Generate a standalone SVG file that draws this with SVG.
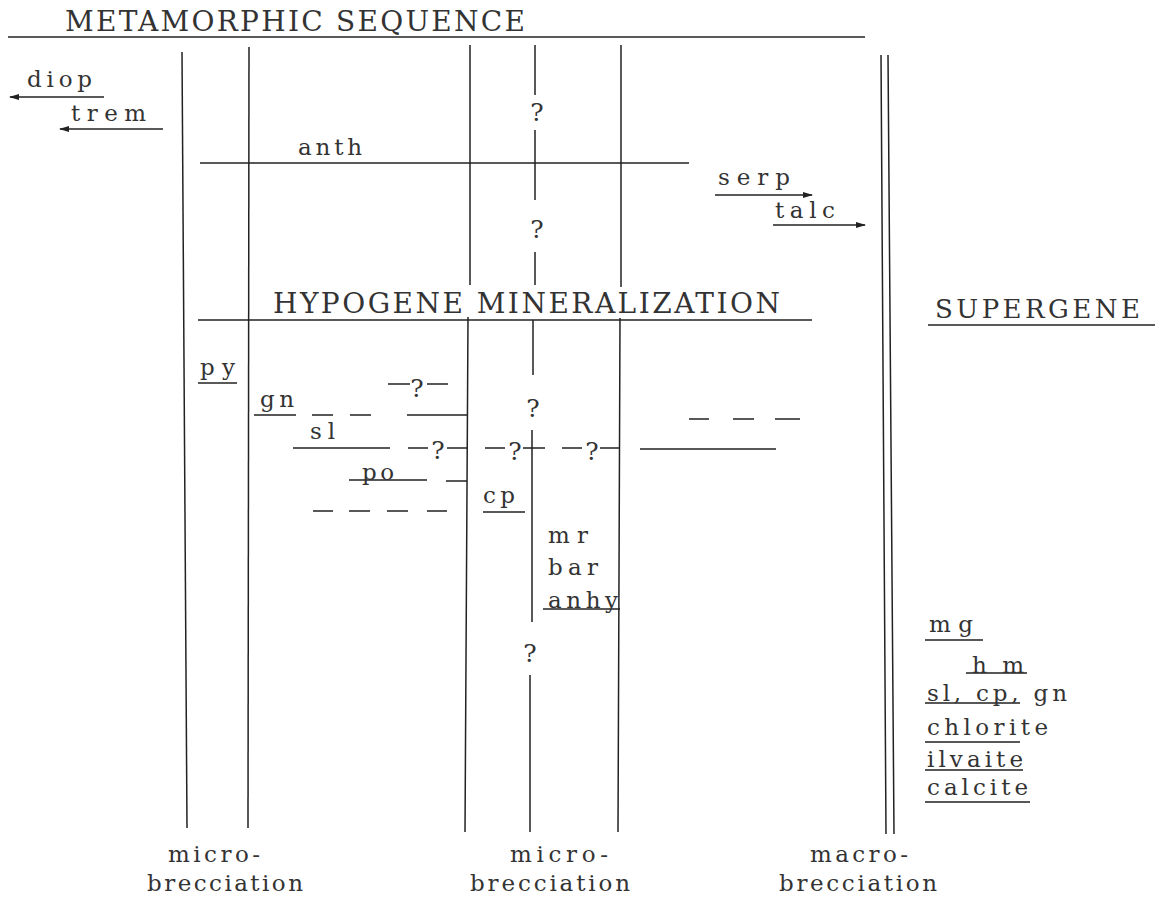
<svg xmlns="http://www.w3.org/2000/svg" width="1167" height="899" viewBox="0 0 1167 899">
<style>
.t{font-family:"DejaVu Serif","Liberation Serif",serif;font-size:23px;fill:#333}
.h{font-size:28px}
.s{font-size:26px}
.q{font-size:25px;text-anchor:middle}
.l{stroke:#222;stroke-width:1.5;fill:none}
</style>
<defs>
<marker id="ah" markerWidth="10" markerHeight="6" refX="9" refY="3" orient="auto" markerUnits="userSpaceOnUse">
<path d="M0,0 L10,3 L0,6 z" fill="#222"/>
</marker>
</defs>
<rect width="1167" height="899" fill="#fff"/>
<g id="connectors">
<path class="l" d="M8,37 H865"/>
<path class="l" d="M182,52 L187,828"/>
<path class="l" d="M249,47 L248,828"/>
<path class="l" d="M470,45 V285 M468,317 L465,832"/>
<path class="l" d="M535,45 V95 M535,130 V200 M535,252 V285 M533,320 V375 M532,430 V622 M530,675 V832"/>
<path class="l" d="M621,45 V287 M620,318 L618,832"/>
<path class="l" d="M881,55 L886,834 M888,55 L894,834"/>
<path class="l" d="M104,97 H10" marker-end="url(#ah)"/>
<path class="l" d="M163,129 H60" marker-end="url(#ah)"/>
<path class="l" d="M715,195 H812" marker-end="url(#ah)"/>
<path class="l" d="M773,225 H865" marker-end="url(#ah)"/>
<path class="l" d="M200,163 H689"/>
<path class="l" d="M198,320 H812"/>
<path class="l" d="M928,325 H1155"/>
<path class="l" d="M198,383 H237"/>
<path class="l" d="M388,384 H410 M427,384 H448"/>
<path class="l" d="M254,415 H296 M312,415 H333 M350,415 H371 M407,415 H467"/>
<path class="l" d="M293,448 H390 M408,448 H428 M447,448 H467 M485,448 H505 M523,448 H545 M562,448 H582 M600,448 H620 M640,449 H776"/>
<path class="l" d="M689,419 H709 M733,419 H754 M775,419 H800"/>
<path class="l" d="M349,480 H427 M446,481 H467"/>
<path class="l" d="M313,511 H333 M349,511 H370 M387,511 H408 M427,511 H447"/>
<path class="l" d="M483,512 H525"/>
<path class="l" d="M543,609 H620"/>
<path class="l" d="M925,640 H983 M966,673 H1027 M925,703 H1020 M925,742 H1020 M925,770 H1023 M925,802 H1030"/>
</g>
<g id="titles">
<text id="metamorphic" class="t h" x="65" y="31" textLength="460" lengthAdjust="spacing">METAMORPHIC SEQUENCE</text>
<text id="hypogene" class="t h" x="273" y="313" textLength="507" lengthAdjust="spacing">HYPOGENE MINERALIZATION</text>
<text id="supergene" class="t s" x="935" y="318" textLength="205" lengthAdjust="spacing">SUPERGENE</text>
</g>
<g id="metamorphic-minerals">
<text id="diop" class="t" x="27" y="87" textLength="65" lengthAdjust="spacing">diop</text>
<text id="trem" class="t" x="71" y="121" textLength="75" lengthAdjust="spacing">trem</text>
<text id="anth" class="t" x="298" y="155" textLength="64" lengthAdjust="spacing">anth</text>
<text id="serp" class="t" x="718" y="185" textLength="72" lengthAdjust="spacing">serp</text>
<text id="talc" class="t" x="775" y="218" textLength="60" lengthAdjust="spacing">talc</text>
</g>
<g id="hypogene-minerals">
<text id="py" class="t" x="200" y="375" textLength="35" lengthAdjust="spacing">py</text>
<text id="gn" class="t" x="260" y="407" textLength="34" lengthAdjust="spacing">gn</text>
<text id="sl" class="t" x="310" y="439" textLength="25" lengthAdjust="spacing">sl</text>
<text id="po" class="t" x="362" y="480" textLength="32" lengthAdjust="spacing">po</text>
<text id="cp" class="t" x="483" y="503" textLength="32" lengthAdjust="spacing">cp</text>
<text id="mr" class="t" x="548" y="543" textLength="40" lengthAdjust="spacing">mr</text>
<text id="bar" class="t" x="548" y="575" textLength="50" lengthAdjust="spacing">bar</text>
<text id="anhy" class="t" x="548" y="608" textLength="70" lengthAdjust="spacing">anhy</text>
</g>
<g id="queries">
<text class="t q" x="537" y="121">?</text>
<text class="t q" x="537" y="238">?</text>
<text class="t q" x="417" y="397">?</text>
<text class="t q" x="533" y="417">?</text>
<text class="t q" x="438" y="459">?</text>
<text class="t q" x="515" y="460">?</text>
<text class="t q" x="592" y="460">?</text>
<text class="t q" x="530" y="662">?</text>
</g>
<g id="supergene-minerals">
<text id="mg" class="t" x="929" y="632" textLength="44" lengthAdjust="spacing">mg</text>
<text id="hm" class="t" x="972" y="673" textLength="52" lengthAdjust="spacing">hm</text>
<text id="slcpgn" class="t" x="927" y="701" textLength="140" lengthAdjust="spacing">sl, cp, gn</text>
<text id="chlorite" class="t" x="927" y="735" textLength="121" lengthAdjust="spacing">chlorite</text>
<text id="ilvaite" class="t" x="927" y="767" textLength="96" lengthAdjust="spacing">ilvaite</text>
<text id="calcite" class="t" x="927" y="795" textLength="101" lengthAdjust="spacing">calcite</text>
</g>
<g id="brecciation-labels">
<text id="micro1a" class="t" x="168" y="862" textLength="92" lengthAdjust="spacing">micro-</text>
<text id="micro1b" class="t" x="147" y="891" textLength="156" lengthAdjust="spacing">brecciation</text>
<text id="micro2a" class="t" x="510" y="862" textLength="98" lengthAdjust="spacing">micro-</text>
<text id="micro2b" class="t" x="470" y="891" textLength="160" lengthAdjust="spacing">brecciation</text>
<text id="macro1a" class="t" x="810" y="862" textLength="98" lengthAdjust="spacing">macro-</text>
<text id="macro1b" class="t" x="779" y="891" textLength="158" lengthAdjust="spacing">brecciation</text>
</g>
</svg>
